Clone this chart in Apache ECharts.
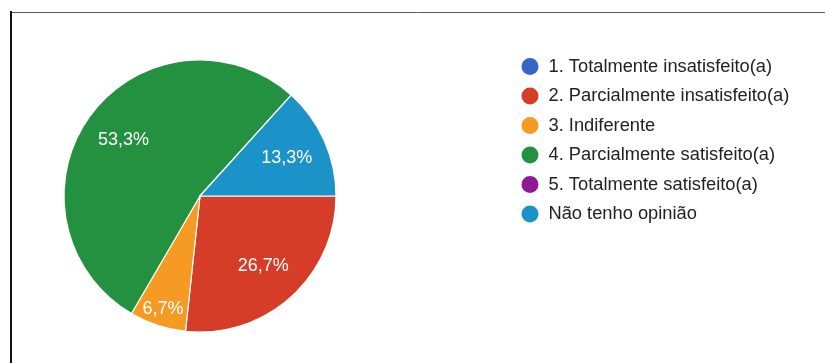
<!DOCTYPE html>
<html>
<head>
<meta charset="utf-8">
<script src="https://cdn.jsdelivr.net/npm/echarts@6/dist/echarts.min.js"></script>
<style>
html,body{margin:0;padding:0;background:#fff;}
#chart{width:825px;height:363px;}
</style>
</head>
<body>
<div id="chart"></div>
<script>
const categories = [
  '1. Totalmente insatisfeito(a)',
  '2. Parcialmente insatisfeito(a)',
  '3. Indiferente',
  '4. Parcialmente satisfeito(a)',
  '5. Totalmente satisfeito(a)',
  'Não tenho opinião'
];
const percentages = [0, 26.7, 6.7, 53.3, 0, 13.3];
const colors = ['#3465c7', '#d63d28', '#f59a22', '#23913f', '#8e1b95', '#1b93c8'];
// small slices have their label pushed outward (Google Forms style)
const outerLabelThreshold = 10;

const R = 136;
const fontFam = '"Liberation Sans", Arial, sans-serif';

const fmt = v => v.toFixed(1).replace('.', ',') + '%';

const mainData = categories.map((c, i) => ({ name: c, value: percentages[i], itemStyle: { color: colors[i] } }));

const chart = echarts.init(document.getElementById('chart'), null, { renderer: 'canvas' });
chart.setOption({
  animation: false,
  graphic: [
    { type: 'line', shape: { x1: 10, y1: 12.5, x2: 825, y2: 12.5 }, style: { stroke: '#5a5a5a', lineWidth: 1 } },
    { type: 'line', shape: { x1: 11, y1: 11, x2: 11, y2: 363 }, style: { stroke: '#111', lineWidth: 2 } }
  ],
  legend: {
    orient: 'vertical',
    left: 521.5,
    top: 57.5,
    padding: 0,
    itemWidth: 17,
    itemHeight: 17,
    itemGap: 11.5,
    icon: 'circle',
    itemStyle: { borderWidth: 0 },
    data: categories,
    textStyle: { fontFamily: fontFam, fontSize: 18.3, color: '#222', padding: [0, 0, 0, 5] }
  },
  series: [
    {
      type: 'pie',
      center: [200, 196],
      radius: [0, R],
      startAngle: 0,
      clockwise: true,
      silent: true,
      label: { show: false },
      labelLine: { show: false },
      itemStyle: { borderColor: '#fff', borderWidth: 1.2 },
      data: mainData
    },
    {
      type: 'pie',
      center: [200, 196],
      radius: [R * 0.35, R],
      startAngle: 0,
      clockwise: true,
      silent: true,
      itemStyle: { color: 'rgba(0,0,0,0)' },
      labelLine: { show: false },
      label: {
        show: true, position: 'inside', color: '#fff', fontFamily: fontFam, fontSize: 18,
        formatter: p => (p.value >= outerLabelThreshold ? fmt(p.value) : '')
      },
      data: categories.map((c, i) => ({ name: c, value: percentages[i] }))
    },
    {
      type: 'pie',
      center: [200, 196],
      radius: [R * 0.7, R],
      startAngle: 0,
      clockwise: true,
      silent: true,
      itemStyle: { color: 'rgba(0,0,0,0)' },
      labelLine: { show: false },
      label: {
        show: true, position: 'inside', color: '#fff', fontFamily: fontFam, fontSize: 18,
        formatter: p => (p.value > 0 && p.value < outerLabelThreshold ? fmt(p.value) : '')
      },
      data: categories.map((c, i) => ({ name: c, value: percentages[i] }))
    }
  ]
});
</script>
</body>
</html>
